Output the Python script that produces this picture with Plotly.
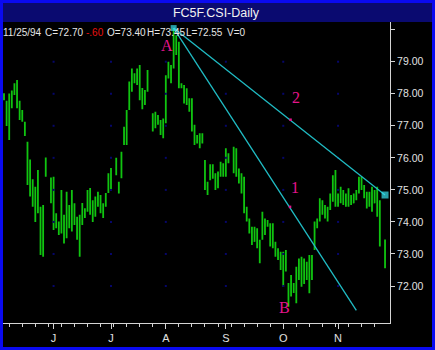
import numpy as np
import pandas as pd
import plotly.graph_objects as go

# ---------------- data ----------------
start_date = "1994-05-05"
end_date = "1994-11-25"

highs = [
    78.02, 77.78, 78.01, 78.10, 78.33, 78.43, 77.78, 77.49, 77.13, 76.50,
    75.95, 75.33, 75.10, 75.62, 74.47, 74.53, 76.01, None, 75.39, 75.41,
    74.27, 74.01, 75.00, 74.22, 74.94, 74.53, 75.00, 74.58, 74.16, 74.22,
    74.59, 74.43, 75.00, 75.06, 74.68, 74.79, 74.94, 74.84, 74.58, 74.90,
    75.52, 75.68, None, 76.00, 75.25, 76.19, 76.97, 77.49, 78.38, 78.79,
    78.64, 78.79, 78.90, 78.18, 78.12, 78.74, None, 77.39, 77.44, 77.34,
    77.18, 77.23, 78.58, 79.00, 78.90, 80.05, 79.83, 79.62, 78.33, 78.27,
    78.17, 77.86, 77.86, 77.03, 76.71, 76.77, 76.77, 75.93, 75.25, 75.80,
    75.80, 75.52, 75.57, 75.88, 75.83, 76.30, 76.14, None, 76.35, 76.30,
    75.67, 75.52, 75.41, 74.47, 74.11, 73.85, 73.85, 73.80, 73.44, 74.32,
    74.11, 74.06, 73.96, 73.96, 73.38, 73.18, 73.07, 73.07, 73.12, 72.09,
    72.34, 72.09, 72.60, 72.86, 72.91, 72.86, 72.76, 72.97, 72.97, 74.01,
    74.11, 74.74, 74.68, 74.53, 74.47, 74.89, 75.46, 75.62, 74.89, 75.10,
    75.00, 74.89, 75.05, 74.84, 74.89, 75.00, 75.41, 75.41, 75.15, 74.94,
    74.94, 75.10, 75.00, 75.10, 74.68, None, 73.45,
]
lows = [
    77.80, 76.99, 76.56, 77.55, 77.96, 77.55, 77.18, 77.13, 76.68, 75.15,
    74.79, 74.47, 74.00, 74.27, 72.97, 72.91, 75.41, None, 74.58, 73.75,
    73.80, 73.59, 73.64, 73.33, 73.49, 73.80, 73.70, 73.90, 73.44, 72.91,
    73.90, 74.12, 74.32, 74.22, 74.00, 74.16, 74.47, 74.27, 74.12, 74.47,
    74.90, 75.00, None, 75.46, 74.89, 75.36, 76.40, 76.40, 77.49, 78.06,
    78.33, 78.27, 77.80, 77.52, 77.65, 78.06, None, 76.82, 76.92, 77.03,
    76.71, 76.61, 77.08, 78.48, 78.33, 78.79, 79.21, 78.17, 78.17, 77.70,
    77.65, 77.44, 76.82, 76.40, 76.45, 76.30, 76.45, 75.00, 74.84, 75.30,
    75.35, 75.00, 75.05, 75.41, 75.41, 75.41, 75.83, None, 75.52, 75.41,
    75.20, 74.89, 74.27, 74.01, 73.64, 73.28, 73.38, 73.18, 72.71, 73.44,
    73.59, 73.85, 73.23, 73.18, 72.91, 72.81, 72.50, 71.98, 72.45, 71.35,
    71.67, 71.78, 71.46, 72.19, 71.98, 72.06, 72.19, 71.77, 72.19, 73.12,
    73.80, 74.01, 74.22, 74.11, 74.01, 74.37, 74.63, 74.47, 74.47, 74.58,
    74.53, 74.47, 74.47, 74.53, 74.58, 74.68, 74.89, 75.00, 74.74, 74.42,
    74.47, 74.32, 74.58, 74.16, 73.23, None, 72.55,
]
opens = [
    77.95, 77.70, 76.80, 77.85, 78.00, 78.30, 77.60, 77.25, 77.05, 76.40,
    75.20, 75.20, 74.40, 75.40, 74.30, 73.10, 75.50, None, 75.30, 74.80,
    73.90, 73.90, 73.80, 74.10, 73.60, 74.40, 73.80, 74.50, 74.00, 73.50,
    74.00, 74.20, 74.40, 74.90, 74.20, 74.40, 74.60, 74.70, 74.30, 74.50,
    75.00, 75.40, None, 75.60, 75.20, 75.40, 76.50, 76.90, 77.60, 78.30,
    78.60, 78.40, 78.80, 77.90, 77.70, 78.10, None, 77.30, 77.00, 77.30,
    77.10, 76.80, 77.20, 78.60, 78.80, 78.90, 79.80, 79.40, 78.30, 78.20,
    77.80, 77.80, 77.60, 76.90, 76.50, 76.60, 76.50, 75.90, 75.10, 75.40,
    75.70, 75.40, 75.10, 75.50, 75.80, 75.50, 76.10, None, 75.90, 76.20,
    75.60, 75.30, 75.00, 74.40, 74.00, 73.70, 73.40, 73.70, 73.30, 73.50,
    74.00, 73.90, 73.90, 73.30, 73.30, 73.00, 72.90, 72.60, 72.50, 72.00,
    71.70, 72.00, 71.80, 72.50, 72.70, 72.20, 72.60, 72.30, 72.80, 73.20,
    73.90, 74.10, 74.60, 74.30, 74.40, 74.40, 74.80, 75.30, 74.60, 74.80,
    74.70, 74.80, 74.55, 74.80, 74.60, 74.80, 74.95, 75.30, 75.10, 74.80,
    74.50, 74.90, 74.60, 74.90, 74.30, None, 73.40,
]
closes = [
    77.85, 77.10, 77.90, 77.70, 78.25, 77.70, 77.30, 77.40, 76.75, 75.30,
    75.80, 74.60, 74.95, 74.40, 73.10, 74.40, 75.90, None, 74.70, 73.90,
    74.10, 73.70, 74.80, 73.50, 74.70, 73.90, 74.80, 74.00, 73.60, 74.10,
    74.50, 74.35, 74.90, 74.35, 74.60, 74.70, 74.80, 74.35, 74.50, 74.85,
    75.45, 75.60, None, 75.90, 75.00, 76.10, 76.90, 77.40, 78.30, 78.70,
    78.40, 78.70, 77.90, 77.70, 78.00, 78.60, None, 76.90, 77.30, 77.10,
    76.80, 77.10, 78.50, 78.90, 78.50, 79.90, 79.30, 78.30, 78.20, 77.80,
    78.00, 77.50, 76.90, 76.50, 76.65, 76.40, 76.70, 75.10, 75.00, 75.70,
    75.40, 75.10, 75.50, 75.80, 75.50, 76.20, 75.90, None, 76.30, 75.50,
    75.30, 75.00, 74.40, 74.10, 73.70, 73.40, 73.70, 73.30, 72.80, 74.20,
    73.70, 74.00, 73.30, 73.80, 73.00, 72.90, 72.60, 72.10, 73.00, 71.50,
    72.20, 71.90, 72.50, 72.70, 72.10, 72.70, 72.30, 72.80, 72.90, 73.90,
    74.00, 74.60, 74.30, 74.40, 74.20, 74.80, 75.30, 74.60, 74.80, 74.70,
    74.90, 74.55, 74.95, 74.60, 74.80, 74.90, 75.30, 75.10, 74.80, 74.50,
    74.90, 74.40, 74.90, 74.30, 73.30, None, 72.70,
]

month_labels = ["J", "J", "A", "S", "O", "N"]
price_ticks = [72, 73, 74, 75, 76, 77, 78, 79, 80]
price_tick_text = ["72.00", "73.00", "74.00", "75.00", "76.00", "77.00", "78.00", "79.00", ""]

# trend lines: (date, price) endpoints
trend1_dates = ["1994-08-04", "1994-11-10"]
trend1_prices = [80.05, 71.24]
trend2_dates = ["1994-08-04", "1994-11-25"]
trend2_prices = [80.05, 74.84]

header_tokens = ["11/25/94", "C=72.70", "-.60", "O=73.40", "H=73.45", "L=72.55", "V=0"]
header_colors = ["#e6e6e6", "#e6e6e6", "#e81010", "#e6e6e6", "#e6e6e6", "#e6e6e6", "#e6e6e6"]
header_px = [2, 44, 85, 106, 146, 185, 226]

# ---------------- derived positions ----------------
days = pd.bdate_range(start_date, end_date)
slots = np.arange(len(days))
keep = [i for i in range(len(days)) if i < len(highs) and highs[i] is not None]
xs = [int(slots[i]) for i in keep]

month_slots = []
for m in [6, 7, 8, 9, 10, 11]:
    idx = np.where(days.month == m)[0]
    month_slots.append(int(idx[0]))
monday_slots = [int(i) for i in np.where(days.weekday == 0)[0]]


def slot_of(d):
    return int(days.get_loc(pd.Timestamp(d)))


GREEN = "#10c410"
CYAN = "#20bcc4"
MAGENTA = "#e4148c"
AXIS = "#d4d4d4"

fig = go.Figure()

# faint grid dots
gx, gy = [], []
for ms in month_slots:
    for p in price_ticks[:-1]:
        gx.append(ms)
        gy.append(p)
fig.add_trace(go.Scatter(x=gx, y=gy, mode="markers",
                         marker=dict(size=2, color="#06066a", symbol="square"),
                         hoverinfo="skip", showlegend=False))

fig.add_trace(go.Ohlc(
    x=xs,
    open=[opens[i] for i in keep],
    high=[highs[i] for i in keep],
    low=[lows[i] for i in keep],
    close=[closes[i] for i in keep],
    increasing=dict(line=dict(color=GREEN, width=1.8)),
    decreasing=dict(line=dict(color=GREEN, width=1.8)),
    tickwidth=0.35,
    hoverinfo="skip",
    showlegend=False,
))

fig.add_trace(go.Scatter(x=[slot_of(d) for d in trend1_dates], y=trend1_prices,
                         mode="lines", line=dict(color=CYAN, width=1.3),
                         hoverinfo="skip", showlegend=False))
fig.add_trace(go.Scatter(x=[slot_of(d) for d in trend2_dates], y=trend2_prices,
                         mode="lines", line=dict(color=CYAN, width=1.3),
                         hoverinfo="skip", showlegend=False))
# end squares
fig.add_trace(go.Scatter(x=[slot_of(trend2_dates[0]), slot_of(trend2_dates[1])],
                         y=[trend2_prices[0], trend2_prices[1]],
                         mode="markers",
                         marker=dict(symbol="square", size=[6, 7], color="#38e0ec",
                                     line=dict(width=0)),
                         hoverinfo="skip", showlegend=False))
# small magenta anchor dots
fig.add_trace(go.Scatter(x=[109.8, 109.6], y=[77.19, 74.47], mode="markers",
                         marker=dict(symbol="square", size=2.5, color=MAGENTA),
                         hoverinfo="skip", showlegend=False))

annotations = []
for txt, ax, ay in [("A", 62.45, 79.52), ("B", 107.3, 71.34), ("1", 111.5, 75.08), ("2", 111.9, 77.87)]:
    annotations.append(dict(x=ax, y=ay, xref="x", yref="y", text=txt, showarrow=False,
                            font=dict(family="Liberation Serif", size=16, color=MAGENTA),
                            xanchor="center", yanchor="middle"))

PL, PR, PT, PB = 3, 390, 22, 323
PW, PH = PR - PL, PB - PT


def px_x(p):
    return (p - PL) / PW


def px_y(p):
    return (PB - p) / PH


for tok, col, hx in zip(header_tokens, header_colors, header_px):
    annotations.append(dict(x=px_x(hx), y=px_y(32), xref="paper", yref="paper", text=tok,
                            showarrow=False, xanchor="left", yanchor="middle", borderpad=0,
                            font=dict(family="Liberation Sans", size=10, color=col)))

shapes = [
    # title bar
    dict(type="rect", xref="paper", yref="paper", x0=px_x(2), x1=px_x(433),
         y0=px_y(22), y1=px_y(2), fillcolor="#0a0a70", line=dict(width=0), layer="below"),
    # blue frame
    dict(type="rect", xref="paper", yref="paper", x0=px_x(1.5), x1=px_x(433.5),
         y0=px_y(348.5), y1=px_y(1.5), line=dict(color="#0a0af0", width=3),
         fillcolor="rgba(0,0,0,0)", layer="above"),
]

fig.update_layout(
    width=435, height=350,
    margin=dict(l=PL, r=435 - PR, t=PT, b=350 - PB, pad=0),
    paper_bgcolor="black", plot_bgcolor="black",
    showlegend=False,
    title=dict(text="FC5F.CSI-Daily", x=216 / 435, xref="container", xanchor="center",
               y=1 - 13 / 350, yref="container", yanchor="middle",
               font=dict(family="Liberation Sans", size=12.5, color="#f2f2f2")),
    annotations=annotations,
    shapes=shapes,
    xaxis=dict(
        range=[-0.38, 147.9], tickmode="array", tickvals=month_slots, ticktext=month_labels,
        ticks="outside", ticklen=5, tickcolor=AXIS, tickwidth=1,
        showline=True, linecolor=AXIS, linewidth=1, showgrid=False, zeroline=False,
        rangeslider=dict(visible=False), fixedrange=True,
        tickfont=dict(family="Liberation Sans", size=11, color="#e0e0e0"),
        minor=dict(tickmode="array", tickvals=monday_slots, ticks="outside", ticklen=3,
                   tickcolor=AXIS, tickwidth=1, showgrid=False),
    ),
    yaxis=dict(
        side="right", range=[70.845, 80.24], tickmode="array", tickvals=price_ticks,
        ticktext=price_tick_text, ticks="outside", ticklen=4, tickcolor=AXIS, tickwidth=1,
        showline=True, linecolor=AXIS, linewidth=1, showgrid=False, zeroline=False,
        tickfont=dict(family="Liberation Sans", size=10.5, color="#e0e0e0"),
    ),
)

fig.write_html("out.html")
